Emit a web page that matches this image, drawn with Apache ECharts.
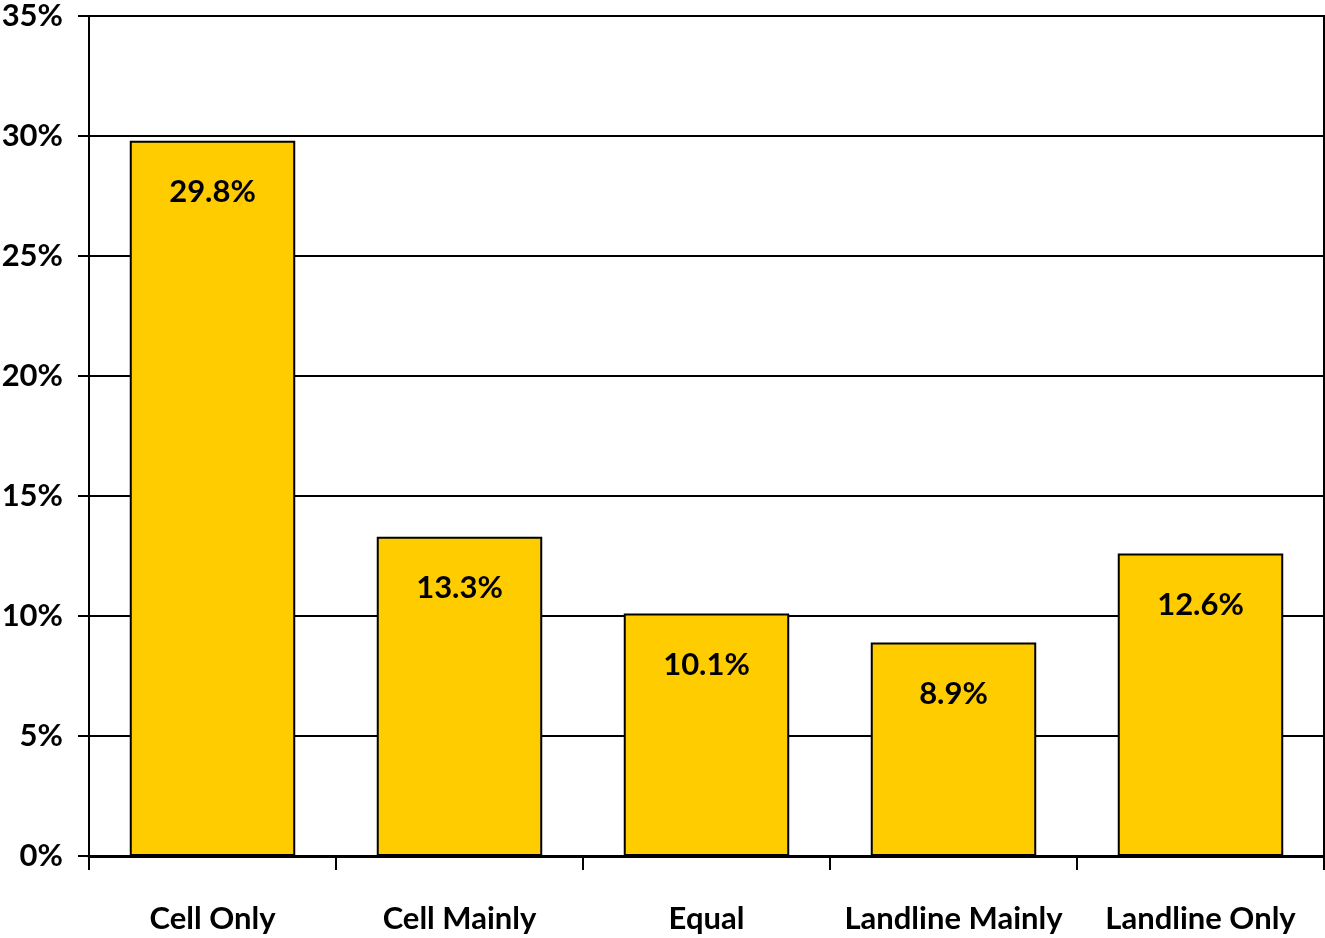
<!DOCTYPE html>
<html>
<head>
<meta charset="utf-8">
<script src="https://cdn.jsdelivr.net/npm/echarts@6/dist/echarts.min.js"></script>
<style>
  html, body { margin: 0; padding: 0; background: #fff; }
  #chart { width: 1325px; height: 938px; }
</style>
</head>
<body>
<div id="chart"></div>
<script>
// 类别与数值
const categories = ['Cell Only', 'Cell Mainly', 'Equal', 'Landline Mainly', 'Landline Only']
const shares = [29.8, 13.3, 10.1, 8.9, 12.6]

const font = 'Lato, "Open Sans", sans-serif'
const chart = echarts.init(document.getElementById('chart'))

const option = {
  backgroundColor: '#fff',
  animation: false,
  grid: {
    left: 89, right: 1, top: 16, bottom: 82,
    outerBoundsMode: 'none', // 固定绘图区，不随标签移动
    show: true, borderColor: '#000', borderWidth: 2
  },
  xAxis: {
    type: 'category',
    data: categories,
    axisLine: { lineStyle: { color: '#000', width: 3 } },
    axisTick: { show: true, alignWithLabel: false, length: 14, lineStyle: { color: '#000', width: 2 } },
    axisLabel: { color: '#000', fontFamily: font, fontWeight: 'bold', fontSize: 31, margin: 47, interval: 0 }
  },
  yAxis: {
    type: 'value',
    min: 0,
    max: 35,
    interval: 5,
    axisLine: { show: true, lineStyle: { color: '#000', width: 2 } },
    axisTick: { show: true, length: 11, lineStyle: { color: '#000', width: 2 } },
    splitLine: { lineStyle: { color: '#000', width: 2 } },
    axisLabel: { color: '#000', fontFamily: font, fontWeight: 'bold', fontSize: 31, margin: 26, formatter: '{value}%' }
  },
  series: [
    {
      type: 'bar',
      data: shares,
      barWidth: '67%',
      itemStyle: { color: '#FFCC00', borderColor: '#000', borderWidth: 2 },
      label: {
        show: true,
        position: 'insideTop',
        distance: 36,
        color: '#000',
        fontFamily: font,
        fontWeight: 'bold',
        fontSize: 31,
        formatter: p => p.value.toFixed(1) + '%'
      }
    }
  ]
}
chart.setOption(option)
</script>
</body>
</html>
